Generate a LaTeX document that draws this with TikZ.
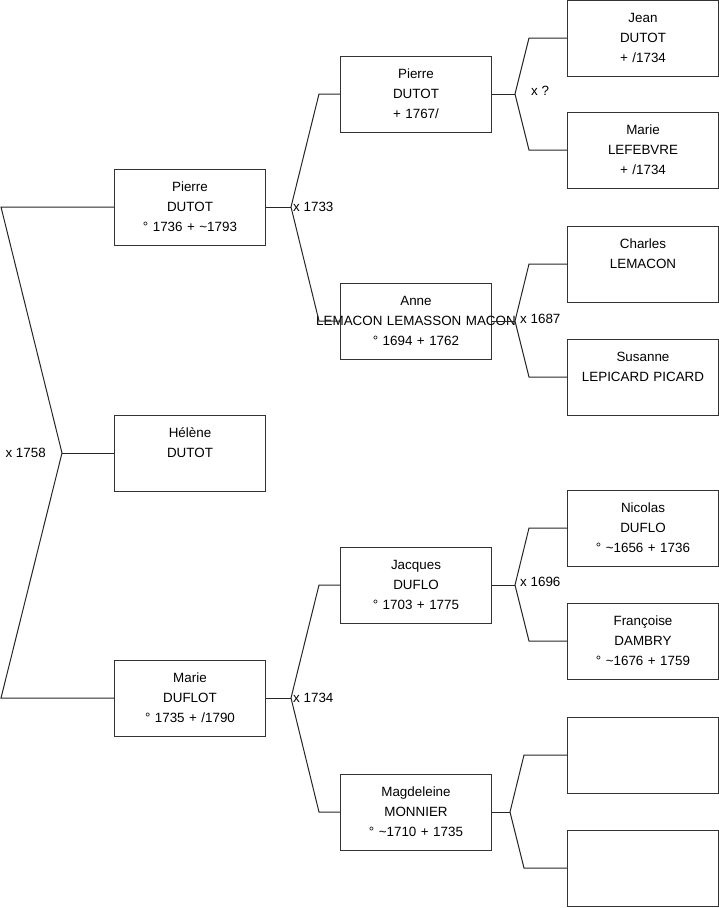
\documentclass[tikz,border=0pt]{standalone}
\usepackage{fontspec}
\setmainfont{Liberation Sans}
\usetikzlibrary{positioning}
\begin{document}
\begin{tikzpicture}[x=1pt,y=-1pt,
    person/.style={draw=black!80,line width=1pt,minimum width=151pt,minimum height=76pt,
      inner sep=0pt,text width=145pt,align=center,font=\fontsize{13.4}{20}\selectfont},
    link/.style={draw=black!85,line width=1pt},
    wed/.style={font=\fontsize{13.4}{16}\selectfont,inner sep=0pt}]
  \useasboundingbox (0,0) rectangle (719,908);
  % parent, father, mother, apex offset, elbow offset
  \def\Fam#1#2#3#4#5{
    \draw[link] (#1.east) -- ++(#4,0) coordinate (#1-x);
    \draw[link] (#2.west) -- ++(-#5,0) -- (#1-x) -- ([xshift=-#5pt]#3.west) -- (#3.west);
  }
  % generation 1
  \node[person] (pierre) at (190,207) {Pierre\\DUTOT\\° 1736 + \textasciitilde1793};
  \node[person] (helene) at (190,453) {Hélène\\DUTOT\\\mbox{}};
  \node[person] (marie) at (190,698) {Marie\\DUFLOT\\° 1735 + /1790};
  % generation 2
  \node[person] (pierreb) at (416,94) {Pierre\\DUTOT\\+ 1767/};
  \node[person] (anne) at (416,321) {Anne\\\makebox[0pt]{LEMACON LEMASSON MACON}\\° 1694 + 1762};
  \node[person] (jacques) at (416,585) {Jacques\\DUFLO\\° 1703 + 1775};
  \node[person] (magdeleine) at (416,812) {Magdeleine\\MONNIER\\° \textasciitilde1710 + 1735};
  % generation 3
  \node[person] (jean) at (643,38) {Jean\\DUTOT\\+ /1734};
  \node[person] (marieb) at (643,150) {Marie\\LEFEBVRE\\+ /1734};
  \node[person] (charles) at (643,264) {Charles\\LEMACON\\\mbox{}};
  \node[person] (susanne) at (643,377) {Susanne\\LEPICARD PICARD\\\mbox{}};
  \node[person] (nicolas) at (643,528) {Nicolas\\DUFLO\\° \textasciitilde1656 + 1736};
  \node[person] (francoise) at (643,641) {Françoise\\DAMBRY\\° \textasciitilde1676 + 1759};
  \node[person] (inc1) at (643,755) {};
  \node[person] (inc2) at (643,868) {};
  % root
  \draw[link] (pierre.west) -- ++(-113,0) coordinate (r1) -- ([xshift=-52pt]helene.west) coordinate (r0)
    -- (r1 |- marie.west) -- (marie.west);
  \draw[link] (r0) -- (helene.west);
  \Fam{pierre}{pierreb}{anne}{25}{21}
  \Fam{marie}{jacques}{magdeleine}{25}{21}
  \Fam{pierreb}{jean}{marieb}{23}{38}
  \Fam{anne}{charles}{susanne}{23}{38}
  \Fam{jacques}{nicolas}{francoise}{23}{38}
  \Fam{magdeleine}{inc1}{inc2}{18}{43}
  % weddings
  \node[wed,left=16pt of r0] (w0) {x 1758};
  \node[wed,right=2pt of pierre-x] (w1) {x 1733};
  \node[wed,right=2pt of marie-x] (w2) {x 1734};
  \node[wed,right=16pt of pierreb-x,yshift=3pt] (w3) {x ?};
  \node[wed,right=5pt of anne-x,yshift=2pt] (w4) {x 1687};
  \node[wed,right=5pt of jacques-x,yshift=3pt] (w5) {x 1696};
\end{tikzpicture}
\end{document}
